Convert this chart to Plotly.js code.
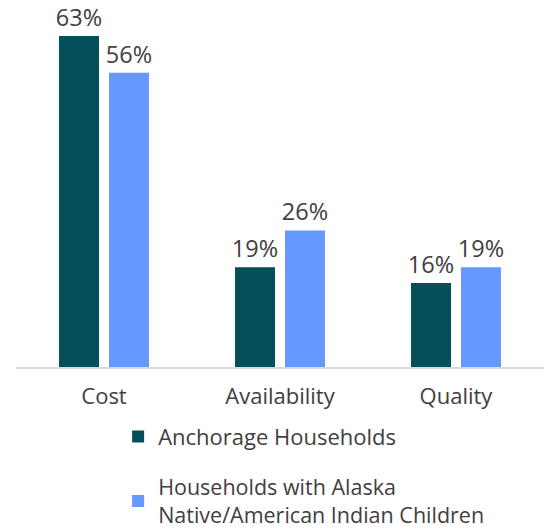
<!DOCTYPE html>
<html>
<head>
<meta charset="utf-8">
<script src="https://cdn.plot.ly/plotly-3.0.1.min.js"></script>
<style>html,body{margin:0;padding:0;background:#fff;}#chart{width:552px;height:529px;}</style>
</head>
<body>
<div id="chart"></div>
<script>
var categories = ["Cost", "Availability", "Quality"];
var seriesNames = ["Anchorage Households", "Households with Alaska<br>Native/American Indian Children"];
var anchorageValues = [63, 19, 16];
var nativeValues = [56, 26, 19];

var font = {family: "Open Sans, sans-serif", size: 22, color: "#404040"};
var labelFont = {family: "Open Sans, sans-serif", size: 23.5, color: "#404040"};
var legendFont2 = {family: "Open Sans, sans-serif", size: 21.5, color: "#404040"};

function pct(a){ return a.map(function(v){ return v + "%"; }); }

var traces = [
  {type: "bar", x: categories, y: anchorageValues, name: seriesNames[0],
   marker: {color: "#034F5A"}, text: pct(anchorageValues), textposition: "outside",
   constraintext: "none", textfont: labelFont, cliponaxis: false, legend: "legend", hoverinfo: "none"},
  {type: "bar", x: categories, y: nativeValues, name: seriesNames[1],
   marker: {color: "#6699FF"}, text: pct(nativeValues), textposition: "outside",
   constraintext: "none", textfont: labelFont, cliponaxis: false, legend: "legend2", hoverinfo: "none"}
];

var layout = {
  width: 552, height: 529,
  margin: {l: 16, r: 8, t: 0, b: 162, autoexpand: false},
  paper_bgcolor: "#fff", plot_bgcolor: "#fff",
  font: font,
  barmode: "group", bargap: 0.432, bargroupgap: 0.2,
  showlegend: true,
  legend: {xref: "container", yref: "container", x: 0.214, xanchor: "left", y: 0.214, yanchor: "top",
           font: font, bgcolor: "rgba(0,0,0,0)"},
  legend2: {xref: "container", yref: "container", x: 0.214, xanchor: "left", y: 0.118, yanchor: "top",
            font: legendFont2, bgcolor: "rgba(0,0,0,0)"},
  xaxis: {showline: true, linecolor: "#D9D9D9", linewidth: 2, ticks: "outside", ticklen: 9,
          tickcolor: "rgba(0,0,0,0)", tickfont: font, fixedrange: true},
  yaxis: {range: [0, 69.85], visible: false, showgrid: false, zeroline: false, fixedrange: true}
};

Plotly.newPlot("chart", traces, layout, {displayModeBar: false, staticPlot: true});
</script>
</body>
</html>
